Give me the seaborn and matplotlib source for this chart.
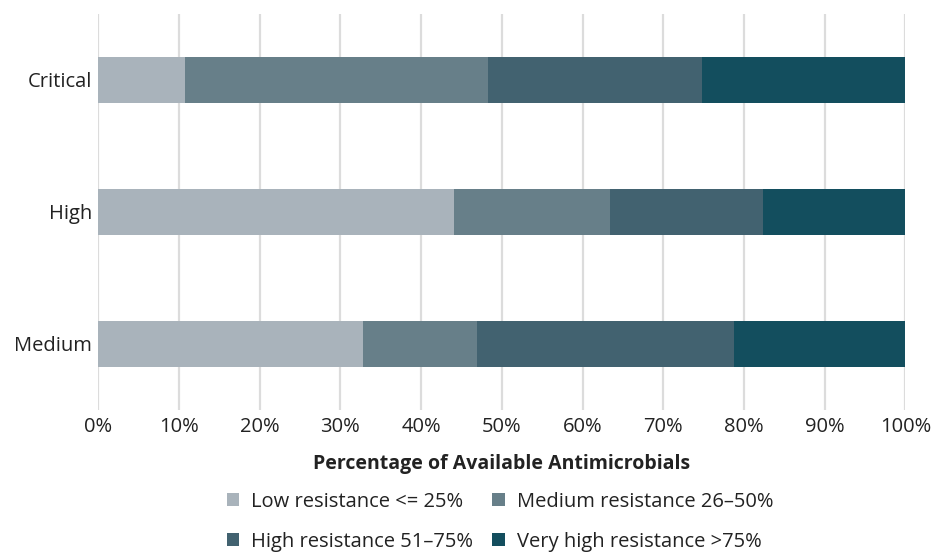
import matplotlib
matplotlib.use("Agg")
import matplotlib.pyplot as plt
from matplotlib.patches import Patch
import seaborn as sns
import pandas as pd
import numpy as np

# Share of available antimicrobials by resistance band, per priority level
categories = ["Critical", "High", "Medium"]
low_res = [10.8, 44.1, 32.8]
medium_res = [37.5, 19.35, 14.15]
high_res = [26.5, 18.95, 31.85]
very_high_res = [25.2, 17.6, 21.2]

series_names = ["Low resistance <= 25%", "Medium resistance 26–50%",
                "High resistance 51–75%", "Very high resistance >75%"]
series_values = [low_res, medium_res, high_res, very_high_res]
colors = ["#a9b3bb", "#677f89", "#426270", "#134e5e"]

xticks = list(range(0, 101, 10))
xtick_labels = [f"{t}%" for t in xticks]

sns.set_theme(style="white")
plt.rcParams["font.family"] = ["Open Sans", "DejaVu Sans"]
FS = 14.5

fig = plt.figure(figsize=(9.31, 5.55), dpi=100)
ax = fig.add_axes([0.1056, 0.2613, 0.8668, 0.7135])

# Cumulative totals; draw the longest stack first so shorter ones sit on top
cum = np.cumsum(np.array(series_values), axis=0)
for i in reversed(range(len(series_names))):
    df = pd.DataFrame({"category": categories, "value": cum[i]})
    sns.barplot(data=df, x="value", y="category", orient="h",
                color=colors[i], saturation=1, width=0.35,
                linewidth=0, ax=ax, zorder=3)

ax.set_xlim(0, 100)
ax.set_ylim(2.5, -0.5)
ax.set_xticks(xticks)
ax.set_xticklabels(xtick_labels)
ax.xaxis.grid(True, color="#dcdcdc", linewidth=1.6, zorder=0)
ax.yaxis.grid(False)
for s in ax.spines.values():
    s.set_visible(False)
ax.tick_params(axis="both", length=0, labelsize=FS, colors="#222222")
ax.tick_params(axis="x", pad=5)
ax.tick_params(axis="y", pad=4.5)
ax.set_ylabel("")
ax.set_xlabel("Percentage of Available Antimicrobials", fontsize=FS - 0.5,
              fontweight="bold", color="#222222", labelpad=12)

# Legend fills column by column; order handles so rows read Low, Medium / High, Very high
order = [0, 2, 1, 3]
handles = [Patch(facecolor=colors[k], edgecolor="none") for k in order]
labels = [series_names[k] for k in order]
fig.legend(handles, labels, ncol=2, loc="lower center",
           bbox_to_anchor=(0.537, 0.0), frameon=False, fontsize=FS,
           borderpad=0.15, borderaxespad=0.0,
           handlelength=0.62, handleheight=0.62, handletextpad=0.6,
           columnspacing=0.95, labelspacing=1.0, labelcolor="#222222")

fig.savefig("out.png", dpi=100)
